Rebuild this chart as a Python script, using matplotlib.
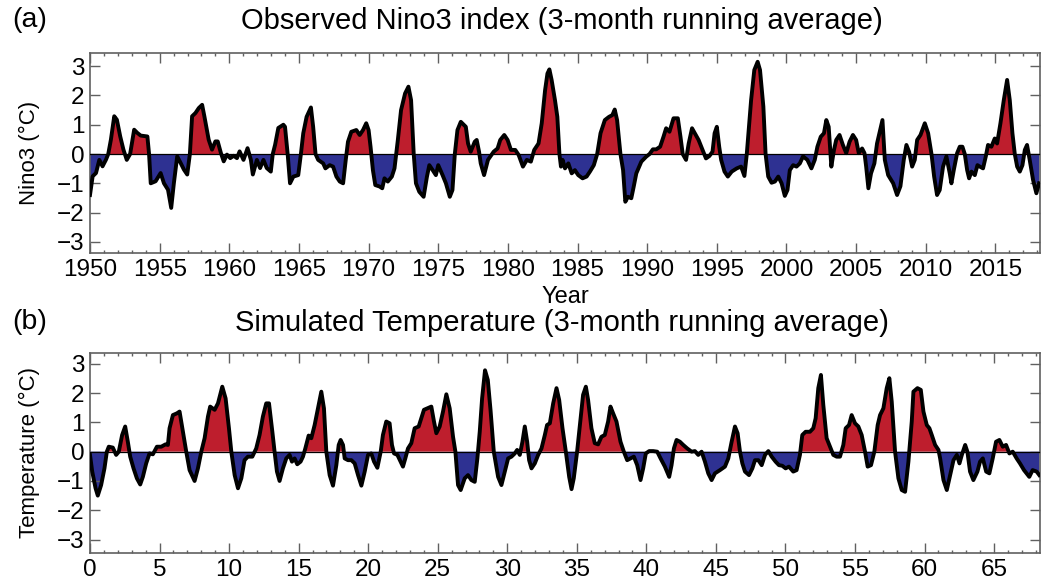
import matplotlib
matplotlib.use('Agg')
import matplotlib.pyplot as plt
from matplotlib.ticker import MultipleLocator
import numpy as np

plt.rcParams['font.family'] = ['Liberation Sans', 'DejaVu Sans']

# observed Nino3 index
nino_year = [
    1950.00, 1950.19, 1950.43, 1950.67, 1950.90, 1951.14, 1951.31, 1951.50, 1951.74, 1951.93,
    1952.17, 1952.40, 1952.64, 1952.88, 1953.17, 1953.40, 1953.64, 1954.12, 1954.24, 1954.36,
    1954.71, 1955.07, 1955.31, 1955.60, 1955.83, 1956.02, 1956.26, 1956.50, 1956.74, 1956.98,
    1957.17, 1957.33, 1957.57, 1957.81, 1958.05, 1958.21, 1958.52, 1958.76, 1959.00, 1959.17,
    1959.40, 1959.60, 1959.83, 1960.07, 1960.31, 1960.55, 1960.74, 1961.02, 1961.31, 1961.55,
    1961.69, 1961.98, 1962.21, 1962.45, 1962.69, 1962.98, 1963.12, 1963.29, 1963.52, 1963.88,
    1964.00, 1964.19, 1964.36, 1964.60, 1964.95, 1965.14, 1965.31, 1965.55, 1965.86, 1966.02,
    1966.19, 1966.38, 1966.74, 1966.90, 1967.21, 1967.45, 1967.69, 1967.93, 1968.17, 1968.36,
    1968.52, 1968.76, 1969.12, 1969.36, 1969.60, 1969.83, 1970.00, 1970.14, 1970.31, 1970.48,
    1970.79, 1970.98, 1971.14, 1971.38, 1971.67, 1971.86, 1972.10, 1972.33, 1972.62, 1972.86,
    1973.05, 1973.24, 1973.40, 1973.64, 1973.95, 1974.19, 1974.36, 1974.60, 1974.83, 1975.00,
    1975.31, 1975.55, 1975.83, 1976.02, 1976.19, 1976.38, 1976.62, 1976.98, 1977.14, 1977.33,
    1977.62, 1977.76, 1977.93, 1978.05, 1978.29, 1978.57, 1978.98, 1979.26, 1979.45, 1979.74,
    1979.98, 1980.22, 1980.53, 1980.77, 1981.08, 1981.36, 1981.65, 1981.89, 1982.20, 1982.43,
    1982.67, 1982.84, 1982.98, 1983.14, 1983.38, 1983.55, 1983.70, 1983.81, 1983.93, 1984.10,
    1984.34, 1984.58, 1984.81, 1985.05, 1985.36, 1985.65, 1985.89, 1986.17, 1986.41, 1986.65,
    1986.96, 1987.26, 1987.50, 1987.67, 1987.84, 1988.08, 1988.27, 1988.43, 1988.62, 1988.86,
    1989.03, 1989.22, 1989.58, 1989.93, 1990.17, 1990.41, 1990.65, 1990.93, 1991.17, 1991.36,
    1991.60, 1991.89, 1992.20, 1992.39, 1992.55, 1992.79, 1992.98, 1993.22, 1993.69, 1993.98,
    1994.22, 1994.46, 1994.69, 1994.84, 1995.00, 1995.17, 1995.31, 1995.55, 1995.79, 1996.07,
    1996.43, 1996.74, 1996.98, 1997.15, 1997.27, 1997.46, 1997.69, 1997.93, 1998.10, 1998.34,
    1998.50, 1998.69, 1998.93, 1999.17, 1999.41, 1999.65, 1999.88, 2000.07, 2000.24, 2000.48,
    2000.72, 2000.96, 2001.19, 2001.50, 2001.79, 2002.03, 2002.22, 2002.46, 2002.69, 2002.86,
    2003.03, 2003.22, 2003.41, 2003.57, 2003.81, 2004.05, 2004.29, 2004.53, 2004.77, 2005.00,
    2005.19, 2005.43, 2005.60, 2005.72, 2005.88, 2006.07, 2006.31, 2006.50, 2006.72, 2006.89,
    2007.06, 2007.30, 2007.66, 2007.94, 2008.18, 2008.42, 2008.61, 2008.80, 2009.02, 2009.21,
    2009.38, 2009.62, 2009.93, 2010.17, 2010.41, 2010.60, 2010.81, 2011.00, 2011.24, 2011.48,
    2011.72, 2011.84, 2012.01, 2012.25, 2012.44, 2012.63, 2012.80, 2012.97, 2013.11, 2013.28,
    2013.52, 2013.71, 2013.88, 2014.11, 2014.31, 2014.47, 2014.71, 2014.95, 2015.12, 2015.36,
    2015.60, 2015.84, 2016.03, 2016.22, 2016.39, 2016.56, 2016.75, 2016.94, 2017.11, 2017.27,
    2017.46, 2017.70, 2017.94, 2018.13,
]
nino_val = [
    -1.40, -0.76, -0.65, -0.20, -0.42, -0.20, 0.00, 0.49, 1.29, 1.17,
    0.60, 0.15, -0.20, 0.00, 0.83, 0.72, 0.63, 0.60, 0.00, -1.00,
    -0.93, -0.65, -1.00, -1.22, -1.84, -1.00, -0.08, -0.30, -0.53, -0.70,
    0.00, 1.29, 1.40, 1.57, 1.68, 1.29, 0.49, 0.15, 0.43, 0.43,
    0.03, -0.25, -0.02, -0.14, -0.06, -0.14, 0.09, -0.20, 0.20, -0.20,
    -0.70, -0.20, -0.48, -0.20, -0.48, -0.60, 0.00, 0.32, 0.89, 1.00,
    0.93, 0.00, -1.00, -0.77, -0.72, 0.00, 0.71, 1.27, 1.59, 0.93,
    0.00, -0.20, -0.32, -0.49, -0.38, -0.43, -0.77, -0.94, -1.00, -0.20,
    0.42, 0.76, 0.82, 0.65, 0.82, 1.05, 0.82, 0.25, -0.55, -1.06,
    -1.11, -1.17, -0.83, -0.94, -0.77, -0.49, 0.48, 1.50, 2.07, 2.30,
    1.84, 0.00, -1.00, -1.29, -1.46, -0.77, -0.38, -0.55, -0.72, -0.38,
    -0.72, -1.00, -1.46, -1.23, 0.00, 0.82, 1.10, 0.93, 0.36, 0.08,
    0.42, 0.48, 0.08, -0.32, -0.72, -0.20, 0.08, 0.19, 0.48, 0.65,
    0.48, 0.14, 0.14, -0.03, -0.43, -0.20, -0.26, 0.14, 0.36, 1.05,
    2.18, 2.75, 2.89, 2.53, 1.84, 1.27, 0.00, -0.43, -0.20, -0.49,
    -0.32, -0.66, -0.55, -0.72, -0.83, -0.77, -0.60, -0.38, 0.00, 0.71,
    1.16, 1.27, 1.33, 1.52, 1.16, 0.00, -0.55, -1.63, -1.46, -1.51,
    -1.12, -0.66, -0.26, -0.09, 0.00, 0.16, 0.16, 0.25, 0.59, 0.88,
    0.76, 1.22, 1.22, 0.59, 0.00, -0.20, 0.36, 0.88, 0.48, 0.14,
    -0.15, -0.07, 0.08, 0.71, 0.93, 0.25, -0.20, -0.60, -0.77, -0.60,
    -0.49, -0.43, -0.75, 0.00, 0.71, 1.84, 2.87, 3.15, 2.87, 1.62,
    0.00, -0.77, -0.98, -0.94, -0.77, -1.00, -1.43, -1.23, -0.55, -0.38,
    -0.43, -0.32, -0.08, -0.20, -0.49, -0.20, 0.25, 0.59, 0.71, 1.16,
    0.93, -0.43, 0.14, 0.48, 0.65, 0.31, 0.03, 0.42, 0.65, 0.48,
    0.03, 0.19, 0.03, -0.43, -1.17, -0.66, -0.32, 0.36, 0.82, 1.16,
    -0.20, -0.72, -1.00, -1.40, -1.10, -0.20, 0.31, 0.08, -0.43, -0.20,
    0.48, 0.65, 1.05, 0.71, 0.00, -0.77, -1.40, -1.23, -0.43, -0.08,
    -0.66, -1.00, -0.55, 0.03, 0.25, 0.25, 0.00, -0.55, -0.83, -0.60,
    -0.72, -0.38, -0.43, -0.49, -0.08, 0.31, 0.25, 0.53, 0.36, 1.05,
    1.84, 2.53, 1.84, 0.71, 0.00, -0.43, -0.60, -0.38, 0.14, 0.31,
    -0.20, -0.88, -1.34, -1.00,
]

# simulated temperature
sim_time = [
    0.00, 0.16, 0.40, 0.56, 0.80, 1.04, 1.21, 1.35, 1.64, 1.88,
    2.07, 2.31, 2.53, 2.72, 2.89, 3.13, 3.37, 3.61, 3.80, 4.04,
    4.28, 4.52, 4.81, 5.12, 5.43, 5.60, 5.72, 5.96, 6.25, 6.44,
    6.68, 6.92, 7.16, 7.52, 7.76, 8.00, 8.24, 8.48, 8.64, 8.96,
    9.20, 9.51, 9.75, 9.99, 10.16, 10.40, 10.64, 10.88, 11.11, 11.35,
    11.67, 11.95, 12.19, 12.43, 12.67, 12.87, 13.11, 13.27, 13.44, 13.63,
    13.87, 14.11, 14.35, 14.52, 14.71, 14.90, 15.14, 15.31, 15.48, 15.72,
    15.91, 16.15, 16.39, 16.63, 16.82, 16.99, 17.23, 17.47, 17.71, 17.88,
    18.02, 18.19, 18.31, 18.55, 18.79, 19.03, 19.27, 19.51, 19.75, 19.99,
    20.22, 20.42, 20.66, 20.90, 21.06, 21.30, 21.54, 21.71, 21.86, 22.10,
    22.33, 22.50, 22.67, 22.86, 23.10, 23.34, 23.63, 23.82, 24.01, 24.25,
    24.54, 24.73, 24.90, 25.14, 25.38, 25.62, 25.86, 26.10, 26.27, 26.46,
    26.65, 26.94, 27.18, 27.42, 27.66, 27.85, 28.02, 28.19, 28.40, 28.60,
    28.80, 29.03, 29.34, 29.58, 29.82, 30.06, 30.30, 30.54, 30.71, 30.90,
    31.09, 31.26, 31.43, 31.57, 31.74, 31.98, 32.22, 32.46, 32.70, 32.86,
    33.06, 33.30, 33.54, 33.73, 33.97, 34.21, 34.45, 34.62, 34.78, 35.02,
    35.26, 35.45, 35.65, 35.81, 36.05, 36.29, 36.53, 36.77, 37.01, 37.25,
    37.42, 37.61, 37.85, 38.14, 38.38, 38.62, 38.86, 39.10, 39.34, 39.58,
    39.77, 39.96, 40.20, 40.49, 40.78, 41.02, 41.33, 41.64, 41.81, 41.98,
    42.17, 42.41, 42.65, 42.94, 43.25, 43.49, 43.73, 43.97, 44.21, 44.45,
    44.69, 44.93, 45.29, 45.65, 45.89, 46.13, 46.37, 46.56, 46.73, 46.90,
    47.09, 47.38, 47.62, 47.81, 48.05, 48.29, 48.53, 48.77, 49.01, 49.29,
    49.53, 49.77, 50.01, 50.25, 50.56, 50.80, 51.04, 51.21, 51.45, 51.76,
    52.00, 52.17, 52.36, 52.55, 52.72, 52.96, 53.20, 53.44, 53.68, 53.92,
    54.16, 54.33, 54.57, 54.76, 55.00, 55.24, 55.48, 55.72, 55.91, 56.15,
    56.39, 56.63, 56.80, 57.04, 57.28, 57.47, 57.64, 57.88, 58.12, 58.36,
    58.60, 58.84, 59.08, 59.20, 59.49, 59.73, 59.92, 60.16, 60.35, 60.52,
    60.76, 61.00, 61.12, 61.36, 61.60, 61.84, 62.08, 62.32, 62.51, 62.68,
    62.92, 63.08, 63.27, 63.51, 63.80, 63.99, 64.19, 64.43, 64.66, 64.90,
    65.14, 65.38, 65.62, 65.86, 66.10, 66.34, 66.62, 66.86, 67.15, 67.53,
    67.77, 68.06, 68.25,
]
sim_val = [
    -0.11, -0.68, -1.25, -1.50, -1.14, -0.57, 0.00, 0.17, 0.14, -0.11,
    0.00, 0.57, 0.86, 0.34, -0.17, -0.57, -0.91, -1.12, -0.86, -0.40,
    -0.06, -0.09, 0.17, 0.17, 0.25, 0.23, 0.80, 1.25, 1.31, 1.37,
    0.68, 0.00, -0.63, -1.00, -0.57, 0.00, 0.46, 1.20, 1.54, 1.43,
    1.65, 2.22, 1.82, 0.80, 0.00, -0.80, -1.25, -0.91, -0.29, -0.17,
    -0.17, 0.11, 0.57, 1.20, 1.65, 1.65, 0.68, 0.00, -0.68, -1.00,
    -0.57, -0.23, -0.11, -0.34, -0.23, -0.43, -0.34, -0.17, 0.11, 0.55,
    0.46, 0.91, 1.48, 2.05, 1.48, 0.00, -0.80, -1.16, -0.46, 0.23,
    0.40, 0.23, -0.23, -0.29, -0.29, -0.40, -0.80, -1.16, -0.68, -0.11,
    -0.06, -0.34, -0.55, 0.00, 0.57, 1.03, 0.97, 0.23, -0.06, -0.11,
    -0.34, -0.51, -0.23, 0.11, 0.29, 0.80, 0.86, 1.14, 1.43, 1.48,
    1.54, 1.03, 0.63, 0.86, 1.37, 1.96, 1.48, 0.51, 0.00, -1.14,
    -1.31, -0.91, -0.80, -0.97, -1.03, -0.23, 0.68, 1.82, 2.78, 2.45,
    1.40, 0.00, -0.86, -1.14, -0.68, -0.23, -0.17, -0.06, 0.06, -0.11,
    0.34, 0.86, 0.34, -0.29, -0.57, -0.40, -0.11, 0.11, 0.57, 0.91,
    0.97, 1.65, 2.17, 1.77, 0.80, 0.00, -0.86, -1.28, -0.91, 0.00,
    1.08, 1.94, 2.22, 1.77, 0.80, 0.29, 0.25, 0.51, 0.57, 1.03,
    1.54, 1.31, 1.03, 0.34, 0.00, -0.29, -0.23, -0.17, -0.46, -0.97,
    -0.57, -0.06, 0.02, 0.02, 0.00, -0.23, -0.51, -0.86, -0.46, 0.11,
    0.40, 0.34, 0.23, 0.11, 0.00, 0.02, -0.11, 0.00, -0.34, -0.74,
    -0.97, -0.74, -0.63, -0.51, -0.23, 0.34, 0.86, 0.63, 0.00, -0.40,
    -0.68, -0.80, -0.57, -0.29, -0.29, -0.46, -0.11, 0.02, -0.17, -0.34,
    -0.46, -0.48, -0.57, -0.51, -0.68, -0.63, -0.11, 0.57, 0.68, 0.68,
    0.80, 1.14, 2.17, 2.62, 1.60, 0.46, 0.17, -0.11, -0.17, -0.17,
    0.23, 0.80, 0.91, 1.25, 0.97, 0.86, 0.57, 0.00, -0.51, -0.46,
    0.00, 0.91, 1.25, 1.48, 2.17, 2.51, 1.71, 0.00, -0.91, -1.31,
    -1.37, -0.34, 1.03, 2.05, 2.17, 2.11, 1.37, 0.91, 0.80, 0.57,
    0.23, 0.06, -0.23, -0.97, -1.31, -0.80, -0.29, -0.11, -0.40, -0.11,
    0.23, 0.00, -0.68, -0.97, -0.68, -0.34, -0.23, -0.68, -0.74, -0.23,
    0.34, 0.40, 0.17, 0.23, -0.06, 0.00, -0.23, -0.40, -0.63, -0.86,
    -0.63, -0.68, -0.80,
]

year_ticks = list(range(1950, 2020, 5))
sim_ticks = list(range(0, 70, 5))
yticks = [-3, -2, -1, 0, 1, 2, 3]

RED = '#be1e2d'
BLUE = '#2e3192'
FRAME = '#606060'


def draw_panel(ax, t, v, xlim, ylim, xticks, ylabel):
    t = np.asarray(t)
    v = np.asarray(v)
    ax.fill_between(t, v, 0, where=v >= 0, interpolate=True, color=RED, lw=0)
    ax.fill_between(t, v, 0, where=v <= 0, interpolate=True, color=BLUE, lw=0)
    ax.axhline(0, color='black', lw=0.9, zorder=3)
    ax.plot(t, v, color='black', lw=2.8, solid_joinstyle='round', zorder=4)
    ax.set_xlim(*xlim)
    ax.set_ylim(*ylim)
    ax.set_xticks(xticks)
    ax.set_yticks(yticks)
    ax.xaxis.set_minor_locator(MultipleLocator(1))
    ax.tick_params(which='both', direction='in', top=True, right=True,
                   color=FRAME, width=1.0, labelsize=17.5, pad=4)
    ax.tick_params(which='major', length=7)
    ax.tick_params(which='minor', length=2.5)
    for s in ax.spines.values():
        s.set_color(FRAME)
        s.set_linewidth(1.2)
    ax.set_ylabel(ylabel, fontsize=16)
    ax.yaxis.set_label_coords(-0.053, 0.5)


fig = plt.figure(figsize=(10.45, 5.86), dpi=100)
ax_a = fig.add_axes([90 / 1045, 1 - 253 / 586, 950 / 1045, 200 / 586])
ax_b = fig.add_axes([90 / 1045, 1 - 553 / 586, 950 / 1045, 200 / 586])

draw_panel(ax_a, nino_year, nino_val, (1950, 2018.2), (-3.38, 3.45),
           year_ticks, 'Nino3 (°C)')
ax_a.set_xlabel('Year', fontsize=17)
ax_a.xaxis.set_label_coords(0.5, -0.165)

draw_panel(ax_b, sim_time, sim_val, (0, 68.3), (-3.46, 3.37),
           sim_ticks, 'Temperature (°C)')

fig.text(12 / 1045, 1 - 20 / 586, '(a)', fontsize=20.5, va='center', ha='left')
fig.text(562 / 1045, 1 - 21 / 586, 'Observed Nino3 index (3-month running average)',
         fontsize=21, va='center', ha='center')
fig.text(12 / 1045, 1 - 322 / 586, '(b)', fontsize=20.5, va='center', ha='left')
fig.text(562 / 1045, 1 - 323 / 586, 'Simulated Temperature (3-month running average)',
         fontsize=21, va='center', ha='center')

fig.savefig('out.png', dpi=100)
